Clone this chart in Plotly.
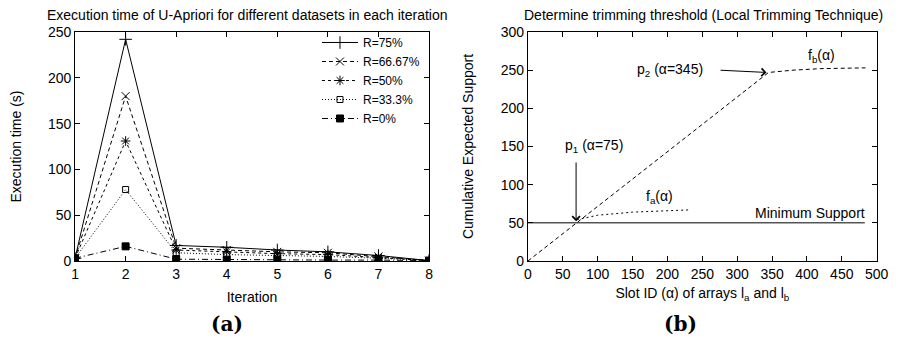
import plotly.graph_objects as go

# ---- Data (a) ----
iterations = [1, 2, 3, 4, 5, 6, 7, 8]
r75 = [3, 242, 17, 15, 12, 10, 6, 0.5]
r667 = [3, 180, 14, 12, 10, 9, 5, 0.5]
r50 = [3, 131, 12, 10, 8, 7, 4, 0.5]
r333 = [3, 78, 9, 7, 6, 5, 3, 0.5]
r0 = [3, 16, 2, 1.5, 1.5, 1, 1, 0.5]
series_names = ["R=75%", "R=66.67%", "R=50%", "R=33.3%", "R=0%"]

# ---- Data (b) ----
fb_x = [0, 345, 380, 420, 484]
fb_y = [0, 247, 250, 252, 253]
fa_x = [70, 100, 150, 200, 232]
fa_y = [54, 60, 64, 66, 67]
minsup_x = [0, 483]
minsup_y = [50, 50]

FONT = "Liberation Sans"
FS = 14
fig = go.Figure()

styles = [
    (r75, "solid", "cross-thin", 9),
    (r667, "4px,3px", "x-thin", 8),
    (r50, "3px,3px", "asterisk", 8),
    (r333, "1px,2px", "square-open", 6),
    (r0, "6px,3px,1px,3px", "square", 7),
]
for name, (vals, dash, sym, sz) in zip(series_names, styles):
    fig.add_trace(go.Scatter(
        x=iterations, y=vals, name=name, mode="lines+markers",
        line=dict(color="black", width=1, dash=dash),
        marker=dict(symbol=sym, size=sz, color="black",
                    line=dict(color="black", width=1)),
        xaxis="x", yaxis="y"))

fig.add_trace(go.Scatter(x=fb_x, y=fb_y, mode="lines", showlegend=False,
                         line=dict(color="black", width=1, dash="4px,3px"),
                         xaxis="x2", yaxis="y2"))
fig.add_trace(go.Scatter(x=fa_x, y=fa_y, mode="lines", showlegend=False,
                         line=dict(color="black", width=1, dash="2px,3px"),
                         xaxis="x2", yaxis="y2"))
fig.add_trace(go.Scatter(x=minsup_x, y=minsup_y, mode="lines", showlegend=False,
                         line=dict(color="black", width=1),
                         xaxis="x2", yaxis="y2"))

axis_common = dict(showgrid=False, zeroline=False, showline=True, linecolor="black",
                   linewidth=1, mirror="ticks", ticks="inside", ticklen=5,
                   tickcolor="black", tickfont=dict(size=FS, color="black", family=FONT),
                   title_font=dict(size=FS, color="black", family=FONT),
                   automargin=False, ticklabeloverflow="allow")

# page body has an 8px margin, so the figure is sized to fit inside the window
fig.update_layout(
    template="none",
    width=881, height=330,
    margin=dict(l=0, r=0, t=0, b=0, pad=0),
    paper_bgcolor="white", plot_bgcolor="white",
    font=dict(family=FONT, size=FS, color="black"),
    xaxis=dict(domain=[0.0761, 0.4779], range=[1, 8], dtick=1,
               title=dict(text="Iteration", standoff=11), anchor="y", **axis_common),
    yaxis=dict(domain=[0.2333, 0.9273], range=[0, 250], dtick=50,
               title=dict(text="Execution time (s)", standoff=26), anchor="x", **axis_common),
    xaxis2=dict(domain=[0.5902, 0.9860], range=[0, 500], dtick=50,
                title=dict(text="Slot ID (α) of arrays l<sub>a</sub> and l<sub>b</sub>", standoff=7),
                anchor="y2", **axis_common),
    yaxis2=dict(domain=[0.2333, 0.9273], range=[0, 300], dtick=50,
                title=dict(text="Cumulative Expected Support", standoff=23), anchor="x2",
                **axis_common),
    legend=dict(x=0.4733, y=0.9394, xanchor="right", yanchor="top",
                bgcolor="rgba(0,0,0,0)", font=dict(size=12, family=FONT),
                tracegroupgap=0, itemwidth=36),
    showlegend=True,
)

ann = [
    dict(text="Execution time of U-Apriori for different datasets in each iteration",
         xref="paper", yref="paper", x=0.2713, y=0.978, xanchor="center", yanchor="middle",
         showarrow=False, font=dict(size=FS)),
    dict(text="Determine trimming threshold (Local Trimming Technique)",
         xref="paper", yref="paper", x=0.7900, y=0.978, xanchor="center", yanchor="middle",
         showarrow=False, font=dict(size=FS)),
    dict(text="<b>(a)</b>", xref="paper", yref="paper", x=0.2486, y=0.042,
         xanchor="center", yanchor="middle",
         showarrow=False, font=dict(size=20, family="DejaVu Serif")),
    dict(text="<b>(b)</b>", xref="paper", yref="paper", x=0.7628, y=0.042,
         xanchor="center", yanchor="middle",
         showarrow=False, font=dict(size=20, family="DejaVu Serif")),
    dict(text="p<sub>1</sub> (α=75)", xref="x2", yref="y2", x=95, y=151, showarrow=False),
    dict(text="p<sub>2</sub> (α=345)", xref="x2", yref="y2", x=203, y=250, showarrow=False),
    dict(text="f<sub>b</sub>(α)", xref="x2", yref="y2", x=421, y=269, showarrow=False),
    dict(text="f<sub>a</sub>(α)", xref="x2", yref="y2", x=189, y=84, showarrow=False),
    dict(text="Minimum Support", xref="x2", yref="y2", x=404, y=63, showarrow=False),
    dict(text="", xref="x2", yref="y2", x=69, y=52, ax=69, ay=131, axref="x2", ayref="y2",
         showarrow=True, arrowhead=4, arrowsize=1.5, arrowwidth=1, arrowcolor="black"),
    dict(text="", xref="x2", yref="y2", x=342, y=247, ax=274, ay=250, axref="x2", ayref="y2",
         showarrow=True, arrowhead=4, arrowsize=1.5, arrowwidth=1, arrowcolor="black"),
]
fig.update_layout(annotations=ann)
fig.write_html("out.html")
